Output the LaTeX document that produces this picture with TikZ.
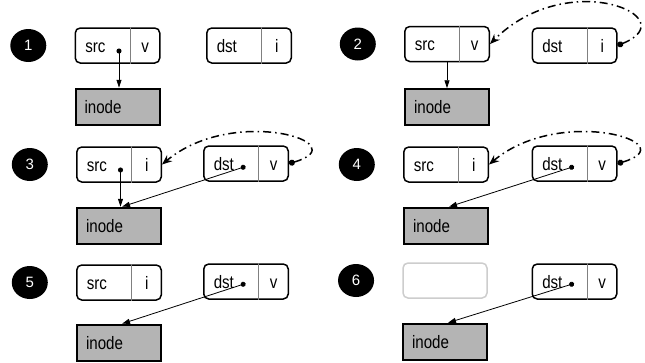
\documentclass[tikz,border=0pt]{standalone}
\usepackage{fontspec}
\setmainfont{Liberation Sans}
\newfontfamily\boxfont{Liberation Sans}[FakeStretch=0.84]
\usetikzlibrary{shapes, shapes.multipart, arrows.meta, positioning, calc}

\definecolor{inodegray}{RGB}{180,180,180}
\definecolor{fadedgray}{RGB}{205,205,205}
\newcommand{\pairtext}[2]{\makebox[54pt][l]{\hspace{10pt}\rule[-11pt]{0pt}{35pt}#1}\nodepart{two}\makebox[29pt]{\rule[-11pt]{0pt}{35pt}#2}}

\begin{document}
\begin{tikzpicture}[
    x=1pt, y=-1pt,
    pair/.style={rectangle split, rectangle split horizontal, rectangle split parts=2, rectangle split draw splits=false, draw, line width=1.5pt, rounded corners=5pt, inner sep=0pt, fill=white, font=\boxfont\fontsize{18}{21}\selectfont},
    gone/.style={draw=fadedgray, line width=1.5pt, rounded corners=5pt, minimum width=84pt, minimum height=35pt},
    inode/.style={draw, rectangle, line width=2pt, fill=inodegray, minimum height=36pt, text width=66pt, inner xsep=9pt, align=left, font=\boxfont\fontsize{18}{21}\selectfont},
    num/.style={ellipse, fill=black, text=white, minimum width=36pt, minimum height=33pt, inner sep=0pt, font=\fontsize{15}{17}\selectfont},
    split/.style={draw=gray, line width=1pt},
    ptr/.style={line width=0.8pt, -{Triangle[length=8pt,width=5pt]}},
    dotptr/.style={line width=0.8pt, {Circle[length=5pt]}-{Triangle[length=8pt,width=5pt]}},
    link/.style={line width=1.5pt, dash pattern=on 8pt off 4pt on 1.5pt off 4pt, {Circle[length=6pt]}-{Stealth[length=10pt,width=8pt]}}
]
    \useasboundingbox (0,0) rectangle (645,362);

    % Step 1
    \node[pair] (src1) at (117.5,45.5) {\pairtext{src}{v}};
    \node[pair] (dst1) at (249,45.5) {\pairtext{dst}{i}};
    \node[num, left=28pt of src1] (num1) {1};
    \node[inode, below=24pt of src1] (ino1) {inode};

    % Step 2
    \node[pair] (src2) at (447,44) {\pairtext{src}{v}};
    \node[pair] (dst2) at (574.5,45.5) {\pairtext{dst}{i}};
    \node[num, left=28pt of src2] (num2) {2};
    \node[inode, below=26pt of src2] (ino2) {inode};

    % Step 3
    \node[pair] (src3) at (119,164.5) {\pairtext{src}{i}};
    \node[pair] (dst3) at (246,163.5) {\pairtext{dst}{v}};
    \node[num, left=28pt of src3] (num3) {3};
    \node[inode, below=24pt of src3] (ino3) {inode};

    % Step 4
    \node[pair] (src4) at (446,164.5) {\pairtext{src}{i}};
    \node[pair] (dst4) at (574.5,163.5) {\pairtext{dst}{v}};
    \node[num, left=28pt of src4] (num4) {4};
    \node[inode, below=24pt of src4] (ino4) {inode};

    % Step 5
    \node[pair] (src5) at (119,282.5) {\pairtext{src}{i}};
    \node[pair] (dst5) at (246,281.5) {\pairtext{dst}{v}};
    \node[num, left=28pt of src5] (num5) {5};
    \node[inode, below=23pt of src5] (ino5) {inode};

    % Step 6 (src is gone)
    \node[gone] (gone6) at (445,280.5) {};
    \node[pair] (dst6) at (574.5,281.5) {\pairtext{dst}{v}};
    \node[num, left=28pt of gone6] (num6) {6};
    \node[inode, below=24pt of gone6] (ino6) {inode};

    % dividers
    \foreach \b in {src1,dst1,src2,dst2,src3,dst3,src4,dst4,src5,dst5,dst6}
        \draw[split] (\b.one split north) -- (\b.one split south);

    % pointers to the inode
    \coordinate (p1) at ($(src1.one split)+(-11,3)$);
    \draw[dotptr] (p1) -- (p1 |- ino1.north);
    \draw[ptr] (src2.south) -- (ino2.north);
    \coordinate (p3) at ($(src3.one split)+(-11,3)$);
    \draw[dotptr] (p3) -- (p3 |- ino3.north);
    \coordinate (q3) at ($(dst3.one split)+(-13,3)$);
    \draw[dotptr] (q3) -- ([xshift=3pt]ino3.north);
    \coordinate (q4) at ($(dst4.one split)+(-13,3)$);
    \draw[dotptr] (q4) -- ([xshift=3pt]ino4.north);
    \coordinate (q5) at ($(dst5.one split)+(-13,2)$);
    \draw[dotptr] (q5) -- ([xshift=3pt]ino5.north);
    \coordinate (q6) at ($(dst6.one split)+(-13,2)$);
    \draw[dotptr] (q6) -- ([xshift=3pt]ino6.north);

    % rename links
    \draw[link] (dst2.east) .. controls +(70,-28) and +(78,-78) .. (src2.east);
    \draw[link] (dst3.east) .. controls +(70,-20) and +(72,-60) .. (src3.east);
    \draw[link] (dst4.east) .. controls +(70,-20) and +(72,-60) .. (src4.east);

\end{tikzpicture}
\end{document}
